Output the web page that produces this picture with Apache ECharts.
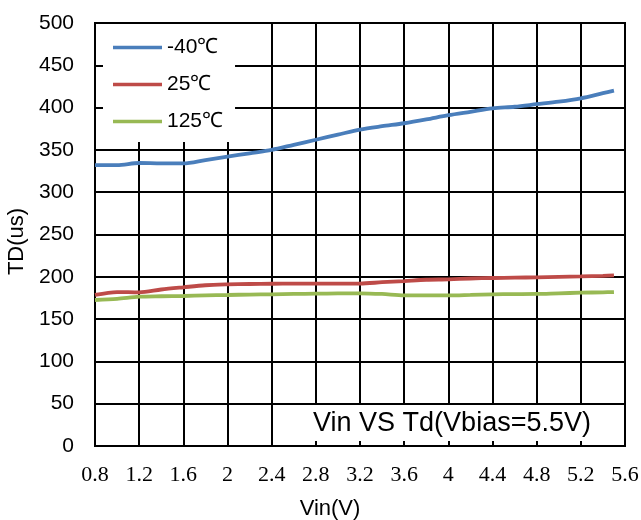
<!DOCTYPE html>
<html>
<head>
<meta charset="utf-8">
<script src="https://cdn.jsdelivr.net/npm/echarts@6/dist/echarts.min.js"></script>
<style>html,body{margin:0;padding:0;background:#fff;}#c{width:641px;height:520px;}</style>
</head>
<body>
<div id="c"></div>
<script>
const vin = [0.8,1.0,1.2,1.4,1.6,1.8,2.0,2.2,2.4,2.6,2.8,3.0,3.2,3.4,3.6,3.8,4.0,4.2,4.4,4.6,4.8,5.0,5.2,5.4,5.5];
const tdM40 = [332,332,334.5,334,334,338,342,346,350,356,362,368,374,378,381.5,386,391,395,399,401,404,407,411,417,420];
const td25  = [178.5,182,181.6,185,187.6,190,191,191.5,191.8,192,192,192,192,193.6,195,196.5,197,198,198.6,199,199.4,200,200.5,201.2,201.7];
const td125 = [172.6,174,176.5,177,177.3,178,178.5,179,179.3,179.7,180,180.3,180.5,179.7,178,178,178,178.6,179.3,179.5,179.7,180.5,181.2,181.7,182];
const seriesNames = ['-40\u2103','25\u2103','125\u2103'];
const seriesColors = ['#4a7ebb','#be4b48','#98b954'];
const annotation = 'Vin VS Td(Vbias=5.5V)';
const xName = 'Vin(V)';
const yName = 'TD(us)';

const pairs = arr => vin.map((v,i)=>[v,arr[i]]);
const allData = [tdM40, td25, td125];

const chart = echarts.init(document.getElementById('c'), null, {renderer:'canvas'});
chart.setOption({
  backgroundColor:'#fff',
  animation:false,
  grid:{left:95,right:16,top:23,bottom:74,show:true,borderColor:'#000',borderWidth:2,
        containLabel:false, outerBoundsMode:'none'},
  legend:{
    orient:'vertical', left:103, top:24,
    padding:[13,12,10,10],
    backgroundColor:'#fff',
    icon:'rect', itemWidth:49, itemHeight:3.5, itemGap:16,
    textStyle:{fontFamily:'Liberation Sans', fontSize:21, color:'#000', lineHeight:21},
    data:seriesNames
  },
  xAxis:{
    type:'value', min:0.8, max:5.6, interval:0.4,
    name:xName, nameLocation:'middle', nameGap:52,
    nameTextStyle:{fontFamily:'Liberation Sans', fontSize:22, color:'#000', padding:[0,60,0,0]},
    axisLine:{lineStyle:{color:'#000',width:2}},
    axisTick:{inside:true,length:4,lineStyle:{color:'#000',width:2}},
    axisLabel:{fontFamily:'Liberation Serif', fontSize:22, color:'#000', margin:18},
    splitLine:{show:true,lineStyle:{color:'#000',width:2}}
  },
  yAxis:{
    type:'value', min:0, max:500, interval:50,
    name:yName, nameLocation:'middle', nameGap:64,
    nameTextStyle:{fontFamily:'Liberation Sans', fontSize:22, color:'#000', padding:[0,14,0,0]},
    axisLine:{show:true,lineStyle:{color:'#000',width:2}},
    axisTick:{show:true,inside:true,length:8,lineStyle:{color:'#000',width:2}},
    axisLabel:{fontFamily:'Liberation Sans', fontSize:21, color:'#000', margin:21},
    splitLine:{show:true,lineStyle:{color:'#000',width:2}}
  },
  graphic:[
    {type:'rect', z:10, shape:{x:296,y:405,width:328,height:36}, style:{fill:'#fff'}},
    {type:'text', z:11, style:{text:annotation, x:452, y:424, align:'center', verticalAlign:'middle', font:'27px "Liberation Sans"', fill:'#000'}}
  ],
  series: seriesNames.map((n,i)=>({
    name:n, type:'line', smooth:0.3, showSymbol:false, symbol:'none',
    data:pairs(allData[i]),
    lineStyle:{color:seriesColors[i], width:3.8},
    itemStyle:{color:seriesColors[i]}
  }))
});
</script>
</body>
</html>
